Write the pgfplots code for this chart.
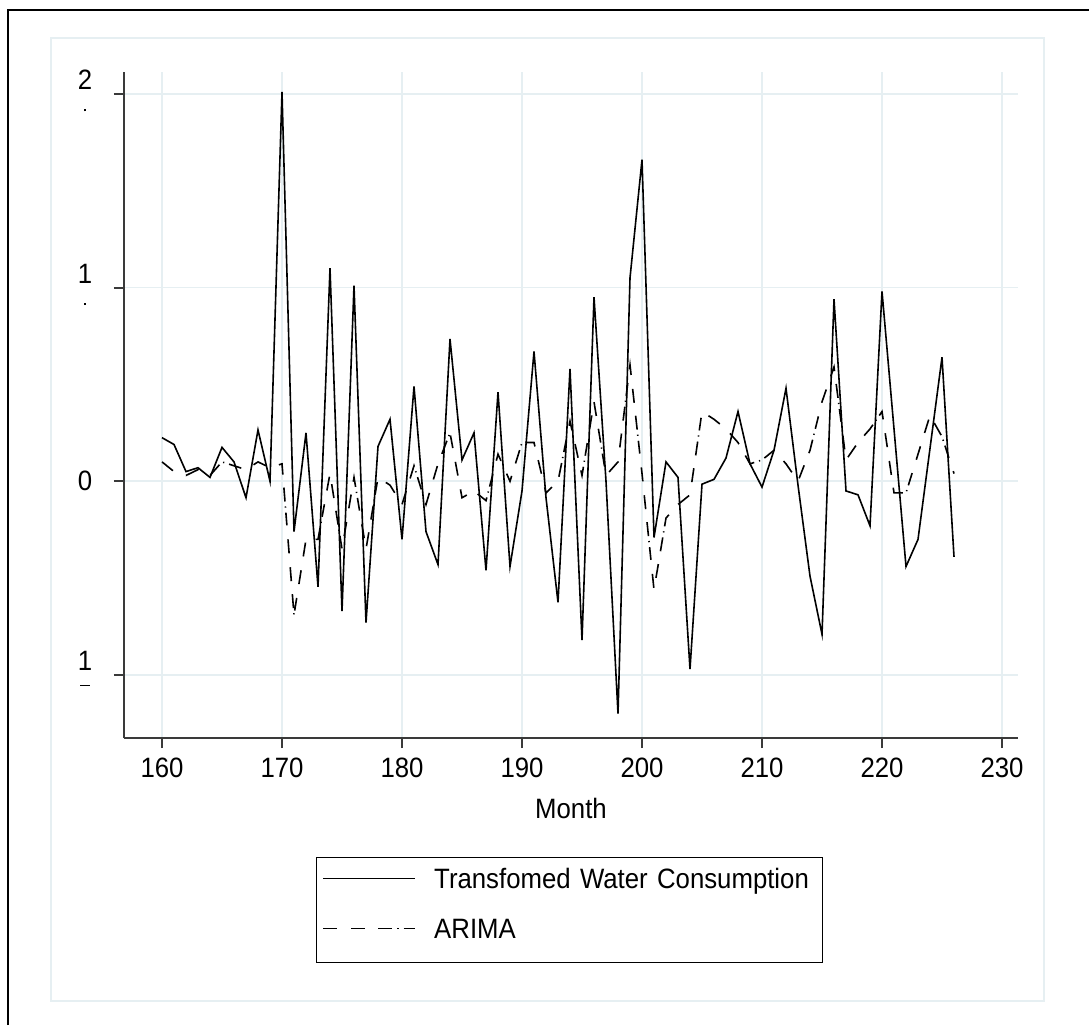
\documentclass[border=0pt]{standalone}
\usepackage{fontspec}
\setmainfont[FakeStretch=0.92]{Liberation Sans}
\usepackage{pgfplots}
\pgfplotsset{compat=1.18}
\definecolor{gridc}{HTML}{E6EFF2}
\definecolor{axc}{HTML}{3A3A3A}
\newcommand{\ylab}[2]{\begin{tabular}{@{}c@{}}#1\\[-6pt]#2\end{tabular}}

\pgfplotstableread{
m v
160 0.225
161 0.19
162 0.05
163 0.07
164 0.02
165 0.175
166 0.10
167 -0.085
168 0.265
169 0.0
170 2.01
171 -0.26
172 0.25
173 -0.545
174 1.10
175 -0.67
176 1.01
177 -0.73
178 0.18
179 0.32
180 -0.30
181 0.49
182 -0.26
183 -0.43
184 0.735
185 0.11
186 0.25
187 -0.46
188 0.46
189 -0.44
190 -0.05
191 0.67
192 -0.085
193 -0.625
194 0.58
195 -0.82
196 0.95
197 0.0
198 -1.2
199 1.05
200 1.66
201 -0.29
202 0.10
203 0.02
204 -0.97
205 -0.015
206 0.01
207 0.12
208 0.36
209 0.09
210 -0.03
211 0.16
212 0.48
213 -0.02
214 -0.49
215 -0.79
216 0.94
217 -0.05
218 -0.07
219 -0.23
220 0.98
221 0.27
222 -0.44
223 -0.30
224 0.17
225 0.64
226 -0.39
}\water

\pgfplotstableread{
m v
160 0.10
161 0.05
162 0.03
163 0.06
164 0.03
165 0.10
166 0.08
167 0.06
168 0.10
169 0.07
170 0.09
171 -0.69
172 -0.30
173 -0.30
174 0.04
175 -0.35
176 0.02
177 -0.35
178 0.02
179 -0.02
180 -0.12
181 0.08
182 -0.12
183 0.09
184 0.25
185 -0.085
186 -0.05
187 -0.10
188 0.14
189 0.0
190 0.20
191 0.20
192 -0.06
193 0.0
194 0.31
195 0.03
196 0.41
197 0.03
198 0.10
199 0.60
200 0.04
201 -0.56
202 -0.19
203 -0.12
204 -0.07
205 0.36
206 0.32
207 0.27
208 0.20
209 0.09
210 0.11
211 0.16
212 0.09
213 0.0
214 0.16
215 0.41
216 0.59
217 0.11
218 0.20
219 0.27
220 0.36
221 -0.06
222 -0.06
223 0.14
224 0.34
225 0.23
226 0.04
}\arima

\begin{document}
\fontsize{14pt}{16.8pt}\selectfont
\begin{tikzpicture}[x=1pt,y=1pt]
\useasboundingbox (0,0) rectangle (544.5,512.5);
\fill[white] (0,0) rectangle (544.5,512.5);
\draw[gridc, line width=1.1pt] (25.5,12) rectangle (522,493.5);
\draw[black, line width=1.3pt] (4,0) -- (4,507.5) -- (544.5,507.5);
\begin{axis}[
  at={(62pt,143.5pt)}, anchor=south west,
  scale only axis, width=447pt, height=333pt,
  xmin=156.833, xmax=231.333, ymin=-1.3255, ymax=2.113,
  axis x line*=bottom, axis y line*=left,
  axis line style={axc, line width=1pt},
  xtick={160,170,...,230}, ytick={-1,0,1,2},
  yticklabels={{\ylab{1}{\rule[3pt]{5pt}{0.8pt}}}, 0, {\ylab{1}{\rule{1pt}{1pt}}}, {\ylab{2}{\rule{1pt}{1pt}}}},
  tick align=outside, major tick length=5pt,
  tick style={axc, line width=1pt},
  grid=major, major grid style={gridc, line width=0.8pt},
  /pgf/number format/assume math mode=true,
  ticklabel style={font=\fontsize{14pt}{16.8pt}\selectfont},
  yticklabel style={xshift=-6pt},
  xlabel={Month},
  xlabel style={at={(axis description cs:0.5,-0.1051)}, anchor=center, font=\fontsize{14pt}{16.8pt}\selectfont},
  legend style={at={(axis description cs:0.2148,-0.1787)}, anchor=north west,
    draw=black, line width=0.6pt, inner xsep=3pt, inner ysep=5.5pt,
    row sep=15pt,
    font=\fontsize{14pt}{16.8pt}\selectfont,
    cells={anchor=base west},
    nodes={anchor=base west, inner sep=0pt, text height=10pt, text depth=0pt, text width=191pt, align=left},
    /tikz/every odd column/.append style={column sep=9pt},
    /tikz/row 2/.style={nodes={text depth=6.5pt}}},
  legend image code/.code={\draw[#1] (0pt,5pt) -- (46pt,5pt);},
]
\addplot[black, line width=0.8pt] table[x=m,y=v] {\water};
\addlegendentry{Transfomed Water Consumption}
\addplot[black, line width=0.8pt, dash pattern=on 7pt off 7pt on 7pt off 6.5pt on 7pt off 2.5pt on 0.6pt off 2.5pt on 6.4pt off 7pt] table[x=m,y=v] {\arima};
\addlegendentry{ARIMA}
\end{axis}
\end{tikzpicture}
\end{document}
